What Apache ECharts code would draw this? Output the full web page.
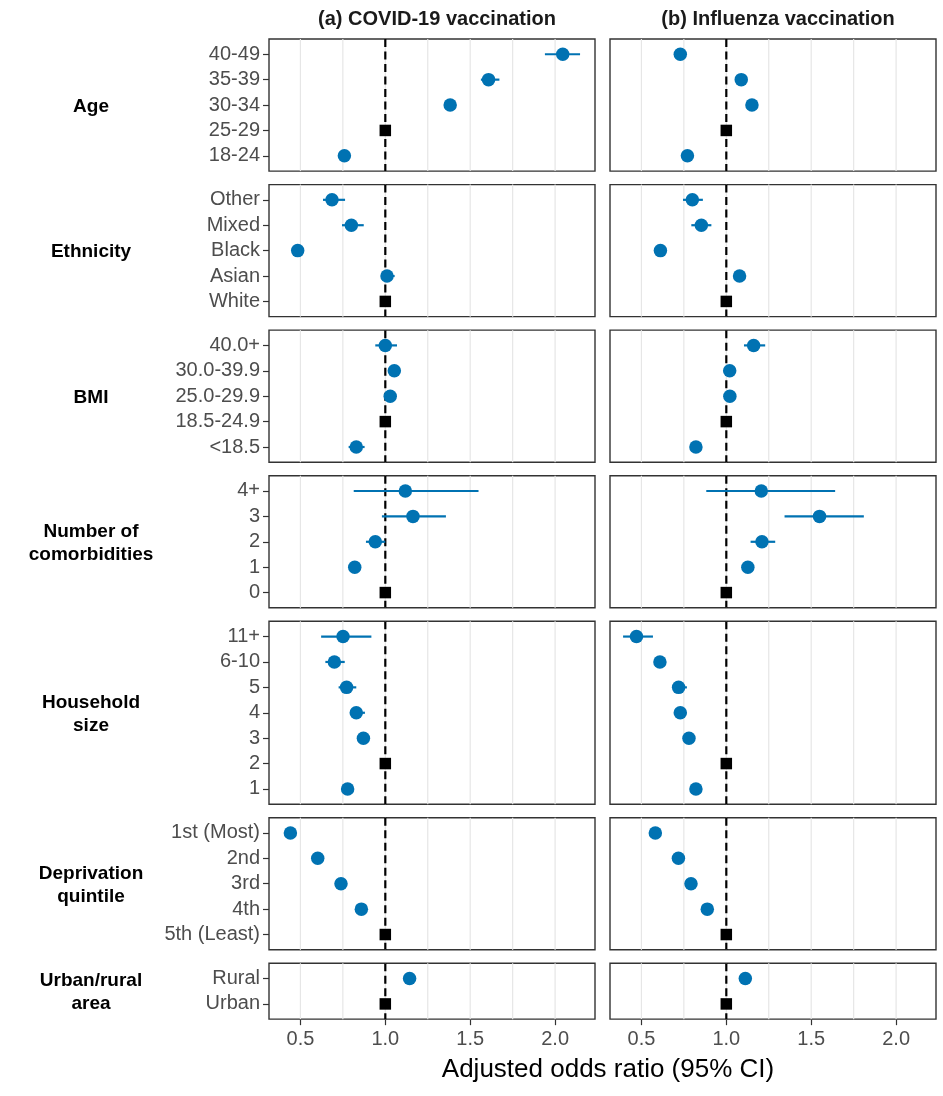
<!DOCTYPE html>
<html>
<head>
<meta charset="utf-8">
<script src="https://cdn.jsdelivr.net/npm/echarts@6.0.0/dist/echarts.min.js"></script>
<style>
  html, body { margin: 0; padding: 0; background: #fff; }
  #chart { width: 943px; height: 1096px; }
</style>
</head>
<body>
<div id="chart"></div>
<script>
// facet rows, top to bottom
const groupNames = ['Age', 'Ethnicity', 'BMI', 'Number of\ncomorbidities', 'Household\nsize', 'Deprivation\nquintile', 'Urban/rural\narea']
const panelTitles = ['(a) COVID-19 vaccination', '(b) Influenza vaccination']

// levels inside each facet, top to bottom
const categories = [
  ['40-49', '35-39', '30-34', '25-29', '18-24'],
  ['Other', 'Mixed', 'Black', 'Asian', 'White'],
  ['40.0+', '30.0-39.9', '25.0-29.9', '18.5-24.9', '<18.5'],
  ['4+', '3', '2', '1', '0'],
  ['11+', '6-10', '5', '4', '3', '2', '1'],
  ['1st (Most)', '2nd', '3rd', '4th', '5th (Least)'],
  ['Rural', 'Urban']
]
const refLevels = ['25-29', 'White', '18.5-24.9', '0', '2', '5th (Least)', 'Urban']

// (a) COVID-19 vaccination: adjusted OR and 95% CI
const covidOR = [
  [2.045, 1.608, 1.382, 1, 0.759],
  [0.686, 0.800, 0.484, 1.010, 1],
  [1.000, 1.053, 1.029, 1, 0.829],
  [1.118, 1.163, 0.941, 0.820, 1],
  [0.751, 0.700, 0.772, 0.829, 0.871, 1, 0.778],
  [0.441, 0.602, 0.739, 0.859, 1],
  [1.143, 1]
]
const covidLower = [
  [1.940, 1.563, 1.355, 1, 0.740],
  [0.633, 0.745, 0.470, 0.980, 1],
  [0.941, 1.035, 1.010, 1, 0.784],
  [0.814, 0.980, 0.886, 0.800, 1],
  [0.622, 0.647, 0.725, 0.794, 0.850, 1, 0.755],
  [0.430, 0.590, 0.725, 0.845, 1],
  [1.120, 1]
]
const covidUpper = [
  [2.147, 1.672, 1.410, 1, 0.780],
  [0.763, 0.873, 0.500, 1.055, 1],
  [1.069, 1.072, 1.048, 1, 0.878],
  [1.549, 1.357, 1.000, 0.842, 1],
  [0.918, 0.761, 0.829, 0.880, 0.893, 1, 0.802],
  [0.452, 0.615, 0.754, 0.874, 1],
  [1.166, 1]
]

// (b) Influenza vaccination: adjusted OR and 95% CI
const fluOR = [
  [0.729, 1.088, 1.151, 1, 0.771],
  [0.800, 0.853, 0.612, 1.078, 1],
  [1.161, 1.020, 1.021, 1, 0.821],
  [1.206, 1.549, 1.210, 1.127, 1],
  [0.471, 0.609, 0.719, 0.729, 0.780, 1, 0.821],
  [0.582, 0.718, 0.792, 0.888, 1],
  [1.112, 1]
]
const fluLower = [
  [0.715, 1.070, 1.132, 1, 0.755],
  [0.745, 0.794, 0.598, 1.050, 1],
  [1.104, 1.005, 1.006, 1, 0.805],
  [0.882, 1.343, 1.143, 1.110, 1],
  [0.392, 0.590, 0.690, 0.712, 0.765, 1, 0.806],
  [0.570, 0.705, 0.779, 0.874, 1],
  [1.095, 1]
]
const fluUpper = [
  [0.744, 1.107, 1.170, 1, 0.788],
  [0.862, 0.912, 0.627, 1.110, 1],
  [1.229, 1.036, 1.037, 1, 0.838],
  [1.641, 1.810, 1.288, 1.145, 1],
  [0.568, 0.629, 0.768, 0.747, 0.796, 1, 0.837],
  [0.595, 0.731, 0.806, 0.902, 1],
  [1.130, 1]
]

const xTicks = [0.5, 1.0, 1.5, 2.0]
const gridValues = [0.5, 0.75, 1.0, 1.25, 1.5, 1.75, 2.0]
const xMin = 0.315
const xMax = 2.235

const estimates = [covidOR, fluOR]
const lowers = [covidLower, fluLower]
const uppers = [covidUpper, fluUpper]

const blue = '#0072B2'
const font = 'Liberation Sans'
const unit = 25.4
const gap = 13.5
const panelLeft = [269, 610]
const panelWidth = 326

const chart = echarts.init(document.getElementById('chart'))

const grids = []
const xAxes = []
const yAxes = []
const series = []
const titles = []

function vLines(yMin, yMax, color, width, dash) {
  return function (params, api) {
    const v = api.value(0)
    const p1 = api.coord([v, yMin])
    const p2 = api.coord([v, yMax])
    return {
      type: 'line',
      shape: { x1: p1[0], y1: p1[1], x2: p2[0], y2: p2[1] },
      style: { stroke: color, lineWidth: width, lineDash: dash }
    }
  }
}

function errorBar(params, api) {
  const a = api.coord([api.value(0), api.value(2)])
  const b = api.coord([api.value(1), api.value(2)])
  return {
    type: 'line',
    shape: { x1: a[0], y1: a[1], x2: b[0], y2: b[1] },
    style: { stroke: blue, lineWidth: 2.2 }
  }
}

let panelTop = 39
categories.forEach((cats, r) => {
  const n = cats.length
  const h = (n + 0.2) * unit
  const yMin = -0.6
  const yMax = n - 0.4
  const isBottom = r === categories.length - 1
  const refIdx = cats.indexOf(refLevels[r])
  const rowTicks = cats.map((_, i) => i)

  titles.push({
    text: groupNames[r],
    left: 86,
    top: panelTop + h / 2 - 3.5,
    textAlign: 'center',
    textVerticalAlign: 'middle',
    textStyle: { fontFamily: font, fontSize: 19, fontWeight: 'bold', color: '#000', lineHeight: 23, align: 'center' }
  })

  for (let c = 0; c < 2; c++) {
    const gi = grids.length
    grids.push({
      left: panelLeft[c], top: panelTop, width: panelWidth, height: h,
      show: true, borderColor: '#333333', borderWidth: 1.4, backgroundColor: 'transparent'
    })
    xAxes.push({
      type: 'value', gridIndex: gi, min: xMin, max: xMax, position: 'bottom',
      axisLine: { show: false, onZero: false },
      splitLine: { show: false },
      axisTick: { show: isBottom, length: 6, customValues: xTicks, lineStyle: { color: '#333333', width: 1.2 } },
      axisLabel: {
        show: isBottom, customValues: xTicks, margin: 10,
        formatter: v => v.toFixed(1),
        fontFamily: font, fontSize: 20, color: '#4D4D4D'
      }
    })
    yAxes.push({
      type: 'value', gridIndex: gi, min: yMin, max: yMax, inverse: true, position: 'left',
      axisLine: { show: false, onZero: false },
      splitLine: { show: false },
      axisTick: { show: c === 0, length: 6, customValues: rowTicks, lineStyle: { color: '#333333', width: 1.2 } },
      axisLabel: {
        show: c === 0, customValues: rowTicks, margin: 9,
        formatter: v => cats[v],
        fontFamily: font, fontSize: 20, color: '#4D4D4D'
      }
    })

    // light vertical grid
    series.push({
      type: 'custom', xAxisIndex: gi, yAxisIndex: gi, silent: true, z: 1,
      renderItem: vLines(yMin, yMax, '#E6E6E6', 1.2, null),
      data: gridValues.map(v => [v, 0])
    })
    // dashed reference line at OR = 1
    series.push({
      type: 'custom', xAxisIndex: gi, yAxisIndex: gi, silent: true, z: 2,
      renderItem: vLines(yMin, yMax, '#000', 2.2, [8, 4.5]),
      data: [[1, 0]]
    })

    const est = estimates[c][r]
    const lo = lowers[c][r]
    const hi = uppers[c][r]
    const barData = []
    const pointData = []
    cats.forEach((_, i) => {
      if (i === refIdx) return
      barData.push([lo[i], hi[i], i])
      pointData.push([est[i], i])
    })
    series.push({
      type: 'custom', xAxisIndex: gi, yAxisIndex: gi, silent: true, z: 3,
      renderItem: errorBar,
      encode: { x: [0, 1], y: 2 },
      data: barData
    })
    series.push({
      type: 'scatter', xAxisIndex: gi, yAxisIndex: gi, silent: true, z: 4,
      symbol: 'circle', symbolSize: 13.5,
      itemStyle: { color: blue, opacity: 1 },
      data: pointData
    })
    series.push({
      type: 'scatter', xAxisIndex: gi, yAxisIndex: gi, silent: true, z: 4,
      symbol: 'rect', symbolSize: 11.5,
      itemStyle: { color: '#000', opacity: 1 },
      data: [[est[refIdx], refIdx]]
    })
  }
  panelTop += h + gap
})

panelTitles.forEach((t, c) => {
  titles.push({
    text: t,
    left: panelLeft[c] + panelWidth / 2,
    top: 14.5,
    textAlign: 'center',
    textVerticalAlign: 'middle',
    textStyle: { fontFamily: font, fontSize: 20, fontWeight: 'bold', color: '#1A1A1A' }
  })
})

titles.push({
  text: 'Adjusted odds ratio (95% CI)',
  left: 603,
  top: 1065,
  textAlign: 'center',
  textVerticalAlign: 'middle',
  textStyle: { fontFamily: font, fontSize: 26, fontWeight: 'normal', color: '#000' }
})

chart.setOption({
  animation: false,
  backgroundColor: '#fff',
  title: titles,
  grid: grids,
  xAxis: xAxes,
  yAxis: yAxes,
  series: series
})
</script>
</body>
</html>
